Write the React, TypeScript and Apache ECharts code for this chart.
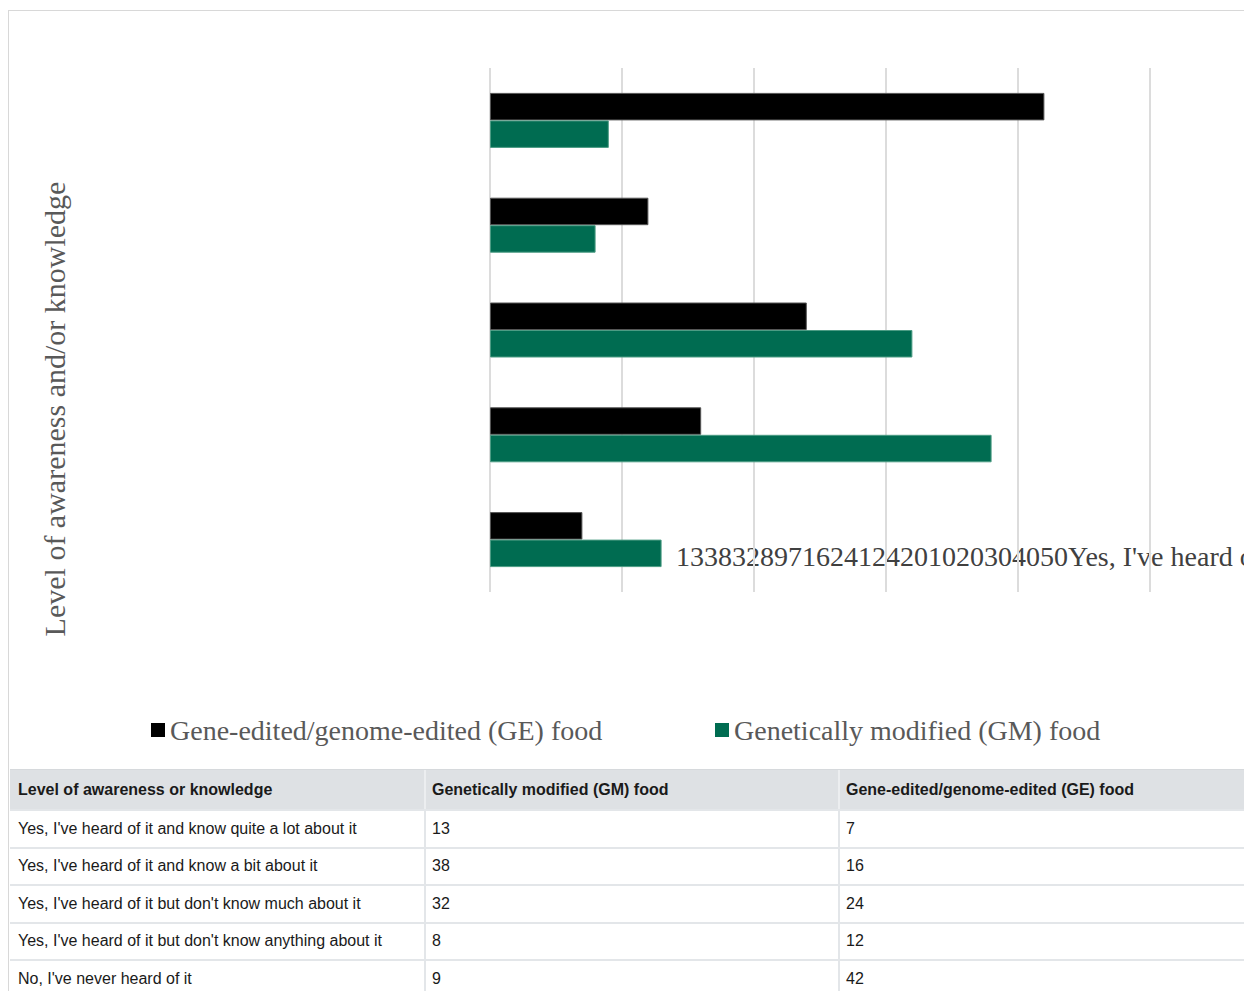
import React, { useEffect, useRef } from "react";
import * as echarts from "echarts";

// Survey answers, in table order (the first one is drawn at the bottom of the chart)
const categories = [
  "Yes, I've heard of it and know quite a lot about it",
  "Yes, I've heard of it and know a bit about it",
  "Yes, I've heard of it but don't know much about it",
  "Yes, I've heard of it but don't know anything about it",
  "No, I've never heard of it",
];
const gmValues = [13, 38, 32, 8, 9];
const geValues = [7, 16, 24, 12, 42];
const xTicks = [0, 10, 20, 30, 40, 50];
const geName = "Gene-edited/genome-edited (GE) food";
const gmName = "Genetically modified (GM) food";
const yTitle = "Level of awareness and/or knowledge";
const tableHeaders = ["Level of awareness or knowledge", gmName, geName];

const SERIF = '"Liberation Serif", "Times New Roman", serif';
const SANS = '"Liberation Sans", Arial, Helvetica, sans-serif';
const GE_COLOR = "#000000";
const GM_COLOR = "#006c51";

function DataTable() {
  const colW = 414;
  const cell = (text: string | number, col: number, bold: boolean, header: boolean) => (
    <div
      key={col}
      style={{
        boxSizing: "border-box",
        width: col === 2 ? colW + 60 : colW,
        height: "100%",
        paddingLeft: col === 0 ? 8 : 6,
        borderLeft: col === 0 ? "none" : `2px solid ${header ? "#eceef0" : "#e3e6e9"}`,
        display: "flex",
        alignItems: "center",
        fontWeight: bold ? 700 : 400,
        whiteSpace: "nowrap",
      }}
    >
      {text}
    </div>
  );
  return (
    <div
      style={{
        position: "absolute",
        left: 2,
        top: 761,
        width: colW * 3 + 60,
        fontFamily: SANS,
        fontSize: 16,
        color: "#1a1a1a",
      }}
    >
      <div
        style={{
          boxSizing: "border-box",
          height: 40,
          borderTop: "1px solid #d6d9dc",
          background: "#dee1e4",
          display: "flex",
        }}
      >
        {tableHeaders.map((h, i) => cell(h, i, true, true))}
      </div>
      {categories.map((c, r) => (
        <div
          key={c}
          style={{
            boxSizing: "border-box",
            height: 37.5,
            borderTop: "2px solid #e3e6e9",
            display: "flex",
            background: "#ffffff",
          }}
        >
          {cell(c, 0, false, false)}
          {cell(gmValues[r], 1, false, false)}
          {cell(geValues[r], 2, false, false)}
        </div>
      ))}
    </div>
  );
}

export default function App() {
  const ref = useRef<HTMLDivElement>(null);

  useEffect(() => {
    document.documentElement.style.overflow = "hidden";
    document.body.style.overflow = "hidden";
    const chart = echarts.init(ref.current!, null, { renderer: "svg" });
    // Leftover label text of the source figure, run together on one line
    const runTogether = [...gmValues, ...geValues, ...xTicks, ...categories].join("");
    const legendBase = {
      orient: "horizontal",
      icon: "rect",
      itemWidth: 14,
      itemHeight: 14,
      selectedMode: false,
      itemStyle: { borderWidth: 0 },
      textStyle: { fontFamily: SERIF, fontSize: 28, color: "#595959" },
      top: 700,
    };
    chart.setOption({
      animation: false,
      grid: { left: 481, top: 57, width: 660, height: 524 },
      xAxis: {
        type: "value",
        min: 0,
        max: 50,
        interval: 10,
        axisLabel: { show: false },
        axisLine: { show: false },
        axisTick: { show: false },
        splitLine: { show: true, lineStyle: { color: "#dcdcdc", width: 2 } },
      },
      yAxis: {
        type: "category",
        data: categories,
        axisLabel: { show: false },
        axisLine: { show: false },
        axisTick: { show: false },
        splitLine: { show: false },
      },
      legend: [
        { ...legendBase, left: 137, data: [geName] },
        { ...legendBase, left: 701, data: [gmName] },
      ],
      series: [
        {
          name: geName,
          type: "bar",
          data: geValues,
          barWidth: 27.5,
          barGap: "0%",
          itemStyle: { color: GE_COLOR, borderColor: "#555555", borderWidth: 1 },
        },
        {
          name: gmName,
          type: "bar",
          data: gmValues,
          barWidth: 27.5,
          barGap: "0%",
          itemStyle: { color: GM_COLOR, borderColor: "#4c9c84", borderWidth: 1 },
        },
      ],
      graphic: [
        {
          type: "text",
          x: 45,
          y: 398,
          rotation: Math.PI / 2,
          style: {
            text: yTitle,
            fontFamily: SERIF,
            fontSize: 30,
            fill: "#595959",
            align: "center",
            verticalAlign: "middle",
            textAlign: "center",
            textVerticalAlign: "middle",
          },
        },
        {
          type: "text",
          x: 667,
          y: 545,
          style: {
            text: runTogether,
            fontFamily: SERIF,
            fontSize: 28,
            fill: "#404040",
            align: "left",
            verticalAlign: "middle",
            textAlign: "left",
            textVerticalAlign: "middle",
          },
        },
      ],
    });
    return () => chart.dispose();
  }, []);

  return (
    <div style={{ position: "relative", width: 1300, height: 983, overflow: "hidden", background: "#ffffff" }}>
      <div
        style={{
          position: "absolute",
          left: 0,
          top: 2,
          width: 1400,
          height: 1200,
          boxSizing: "border-box",
          border: "1px solid #d8d8d8",
        }}
      />
      <div ref={ref} style={{ position: "absolute", left: 1, top: 3, width: 1300, height: 758 }} />
      <DataTable />
    </div>
  );
}
